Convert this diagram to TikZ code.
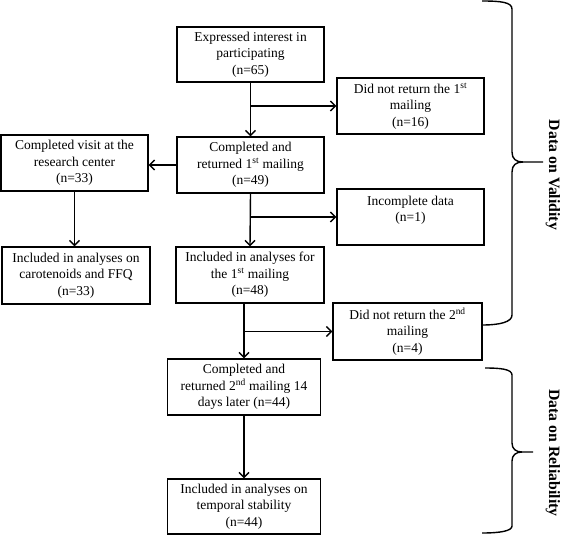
\documentclass[tikz,border=0pt]{standalone}
\usepackage{fontspec}
\setmainfont{Liberation Serif}
\usetikzlibrary{arrows.meta}
\tikzset{
  box/.style={draw, line width=1.3pt, inner sep=0pt, align=center,
    font=\fontsize{13.5}{16.5}\selectfont},
  arr/.style={line width=1.4pt, -{Straight Barb[length=5pt,width=10pt,line width=1.4pt]}},
  brace/.style={line width=1.4pt},
  side/.style={rotate=-90, font=\fontsize{15.8}{18}\selectfont\bfseries, inner sep=0pt}
}
\begin{document}
\begin{tikzpicture}[x=1pt,y=-1pt]
\useasboundingbox (0,0) rectangle (567,535);
\node[box, minimum width=147pt, minimum height=55pt] (b1) at (250.5,54.5) {Expressed interest in\\participating\\(n=65)};
\node[box, minimum width=147pt, minimum height=56pt] (b2) at (410.5,106) {Did not return the 1\textsuperscript{st}\\mailing\\(n=16)};
\node[box, minimum width=147pt, minimum height=56pt] (b3) at (250.5,165) {Completed and\\returned 1\textsuperscript{st} mailing\\(n=49)};
\node[box, minimum width=147pt, minimum height=56pt] (b4) at (74.5,163) {Completed visit at the\\research center\\(n=33)};
\node[box, minimum width=148pt, minimum height=57pt] (b5) at (76,275.5) {Included in analyses on\\carotenoids and FFQ\\(n=33)};
\node[box, minimum width=147pt, minimum height=56pt] (b6) at (410.5,217) {Incomplete data\\(n=1)\\\mbox{}};
\node[box, minimum width=148pt, minimum height=56pt] (b7) at (250,275) {Included in analyses for\\the 1\textsuperscript{st} mailing\\(n=48)};
\node[box, minimum width=149pt, minimum height=57pt] (b8) at (407.5,331.5) {Did not return the 2\textsuperscript{nd}\\mailing\\(n=4)};
\node[box, minimum width=153pt, minimum height=56pt] (b9) at (244,387) {Completed and\\returned 2\textsuperscript{nd} mailing 14\\days later (n=44)};
\node[box, minimum width=153pt, minimum height=55pt] (b10) at (244,506.5) {Included in analyses on\\temporal stability\\(n=44)};

\coordinate (j1) at (250.5,106);
\coordinate (j2) at (250,217);
\coordinate (j3) at (244,331.5);

\draw[arr] (b1.south) -- (b3.north);
\draw[arr] (j1) -- (b2.west);
\draw[arr] (b3.south) -- (b7.north);
\draw[arr] (j2) -- (b6.west);
\draw[arr] (b3.west) -- (b4.east |- b3.west);
\draw[arr] (b4.south) -- (b4.south |- b5.north);
\draw[arr] (b9.north |- b7.south) -- (b9.north);
\draw[arr] (j3) -- (b8.west);
\draw[arr] (b9.south) -- (b10.north);

% Validity brace
\draw[brace] (482,1) .. controls (500,1) and (512,2) .. (512,9) -- (512,152)
  .. controls (512,159) and (516,162) .. (523,162) -- (543,162);
\draw[brace] (523,162) .. controls (516,162) and (512,165) .. (512,172) -- (512,315)
  .. controls (512,322) and (500,325) .. (482,325);
% Reliability brace
\draw[brace] (485,368) .. controls (500,368) and (512,369) .. (512,375) -- (512,443)
  .. controls (512,449) and (516,452) .. (522,452) -- (533,452);
\draw[brace] (522,452) .. controls (516,452) and (512,455) .. (512,461) -- (512,526)
  .. controls (512,531) and (500,533) .. (482,533);

\node[side] (val) at (553,175) {Data on Validity};
\node[side] (rel) at (553,453) {Data on Reliability};
\end{tikzpicture}
\end{document}
